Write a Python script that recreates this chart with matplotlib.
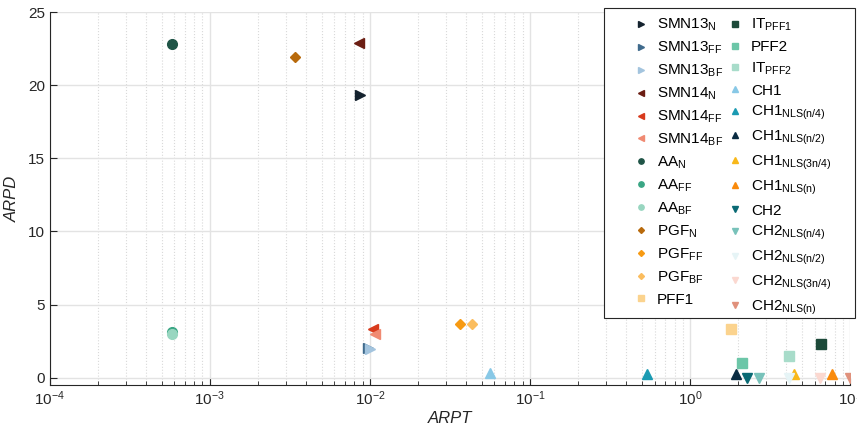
import matplotlib
matplotlib.use('Agg')
import matplotlib.pyplot as plt
from matplotlib.patches import Rectangle

plt.rcParams['font.family'] = ['Liberation Sans', 'DejaVu Sans']
plt.rcParams['mathtext.fontset'] = 'custom'
plt.rcParams['mathtext.rm'] = 'Liberation Sans'
plt.rcParams['mathtext.it'] = 'Liberation Sans:italic'

# method labels, ARPT / ARPD values, colours and markers
labels = [r'SMN13$_\mathrm{N}$', r'SMN13$_\mathrm{FF}$', r'SMN13$_\mathrm{BF}$',
          r'SMN14$_\mathrm{N}$', r'SMN14$_\mathrm{FF}$', r'SMN14$_\mathrm{BF}$',
          r'AA$_\mathrm{N}$', r'AA$_\mathrm{FF}$', r'AA$_\mathrm{BF}$',
          r'PGF$_\mathrm{N}$', r'PGF$_\mathrm{FF}$', r'PGF$_\mathrm{BF}$',
          'PFF1', r'IT$_\mathrm{PFF1}$', 'PFF2', r'IT$_\mathrm{PFF2}$',
          'CH1', r'CH1$_\mathrm{NLS(n/4)}$', r'CH1$_\mathrm{NLS(n/2)}$',
          r'CH1$_\mathrm{NLS(3n/4)}$', r'CH1$_\mathrm{NLS(n)}$',
          'CH2', r'CH2$_\mathrm{NLS(n/4)}$', r'CH2$_\mathrm{NLS(n/2)}$',
          r'CH2$_\mathrm{NLS(3n/4)}$', r'CH2$_\mathrm{NLS(n)}$']
arpt = [0.0087, 0.0097, 0.0100,
        0.0085, 0.0105, 0.0107,
        0.00058, 0.00058, 0.00058,
        0.0034, 0.0365, 0.0434,
        1.80, 6.6, 2.11, 4.16,
        0.056, 0.54, 1.95, 4.47, 7.7,
        2.27, 2.70, 4.16, 6.5, 10.0]
arpd = [19.3, 2.05, 1.95,
        22.9, 3.35, 3.0,
        22.85, 3.15, 3.0,
        21.9, 3.65, 3.65,
        3.35, 2.28, 1.03, 1.45,
        0.32, 0.28, 0.28, 0.22, 0.22,
        0.0, 0.0, 0.0, 0.0, 0.0]
colors = ['#14222e', '#3f6a8c', '#a3c4de',
          '#6b1d12', '#d83a1c', '#f08a72',
          '#1f5446', '#3aa684', '#98d6c0',
          '#b86a0c', '#f79a12', '#fbbd5e',
          '#fbd38e', '#1d4a3a', '#6cc6a8', '#a8dcca',
          '#88c8e6', '#1a9ab2', '#0a2c42', '#f8b81a', '#f98a0c',
          '#0a6a74', '#78c2ba', '#e6f4f6', '#fbd8d0', '#e0917c']
markers = ['>', '>', '>', '<', '<', '<', 'o', 'o', 'o', 'D', 'D', 'D',
           's', 's', 's', 's', '^', '^', '^', '^', '^', 'v', 'v', 'v', 'v', 'v']

W, H = 857, 434
fig = plt.figure(figsize=(W / 100, H / 100), dpi=100)
ax = fig.add_axes([0.058, 0.113, 0.934, 0.859])

for x, y, c, m, lab in zip(arpt, arpd, colors, markers, labels):
    ms = 5.5 if m == 'D' else 7
    ax.plot(x, y, linestyle='none', marker=m, color=c, markersize=ms,
            markeredgecolor=c, label=lab)

ax.set_xscale('log')
ax.set_xlim(1e-4, 10)
ax.set_ylim(-0.5, 25)
ax.set_yticks([0, 5, 10, 15, 20, 25])
ax.grid(True, which='major', color='#e3e3e3', linewidth=1.0, linestyle='-')
ax.grid(True, which='minor', axis='x', color='#d9d9d9', linewidth=0.8, linestyle=':')
ax.set_axisbelow(True)
for s in ['top', 'right']:
    ax.spines[s].set_visible(False)
for s in ['left', 'bottom']:
    ax.spines[s].set_color('#262626')
ax.tick_params(which='both', direction='in', labelsize=11, colors='#262626')
ax.tick_params(which='major', length=5)
ax.tick_params(which='minor', length=3)
ax.set_xlabel('ARPT', fontstyle='italic', fontsize=12, color='#262626', labelpad=2)
ax.set_ylabel('ARPD', fontstyle='italic', fontsize=12, color='#262626', labelpad=6)

# legend box with wide side margins (MATLAB style)
box = Rectangle((604 / W, 1 - 318 / H), 251 / W, 310 / H, transform=fig.transFigure,
                facecolor='white', edgecolor='#262626', linewidth=0.8,
                clip_on=False, zorder=4.9)
ax.add_patch(box)

leg = ax.legend(loc='upper left', ncol=2, fontsize=11, markerscale=0.55,
                frameon=False, handlelength=1.95, handletextpad=0.05,
                columnspacing=-0.15, labelspacing=0.43, borderpad=0,
                borderaxespad=0, bbox_to_anchor=(626 / W, 1 - 17 / H),
                bbox_transform=fig.transFigure)
leg.set_zorder(5)

fig.savefig('out.png', dpi=100)
